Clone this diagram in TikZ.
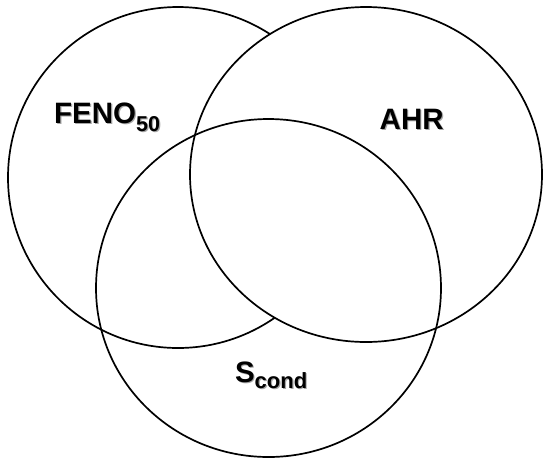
\documentclass[tikz,border=0pt]{standalone}
\usepackage{fontspec}
\setmainfont{Liberation Sans}
\usetikzlibrary{shapes.geometric}
\begin{document}
\begin{tikzpicture}[x=1pt,y=-1pt,
  setring/.style={ellipse,draw=black,line width=1.7pt,inner sep=0pt},
  setlabel/.style={anchor=base west,inner sep=0pt,font=\bfseries\fontsize{29.5}{31}\selectfont},
  labelshade/.style={setlabel,text=black!35}]
\useasboundingbox (0,0) rectangle (543,459);
% FENO50 set, then the AHR set laid over it, then the outlined Scond set
\node[setring,minimum width=340pt,minimum height=341pt] (fenoSet) at (178,177.5) {};
\node[setring,fill=white,minimum width=352pt,minimum height=335pt] (ahrSet) at (366,174.5) {};
\node[setring,minimum width=345pt,minimum height=338pt] (scondSet) at (268.5,288) {};
% labels with a faint offset shade
\newcommand{\fenotext}{FENO\raisebox{-8pt}{\fontsize{21.5}{22}\selectfont 50}}
\newcommand{\scondtext}{S\raisebox{-6pt}{\fontsize{22}{22}\selectfont cond}}
\node[labelshade] (fenoShade) at (55.2,124.2) {\fenotext};
\node[labelshade] (ahrShade) at (380.7,130.2) {AHR};
\node[labelshade] (scondShade) at (236,383.2) {\scondtext};
\node[setlabel] (fenoLabel) at (54,123) {\fenotext};
\node[setlabel] (ahrLabel) at (379.5,129) {AHR};
\node[setlabel] (scondLabel) at (234.8,382) {\scondtext};
\end{tikzpicture}
\end{document}
